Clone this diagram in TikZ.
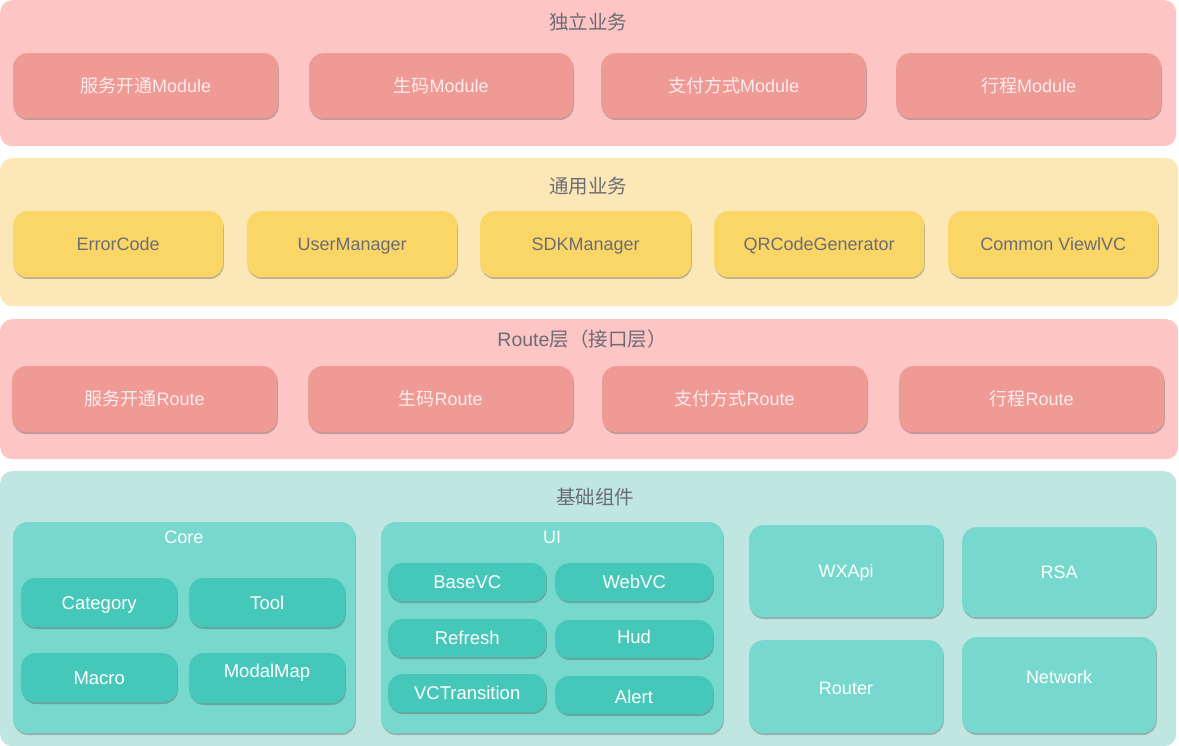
\documentclass[tikz,border=0pt]{standalone}
\usepackage{fontspec}
\setmainfont{Liberation Sans}
\newfontfamily\cjk{Noto Sans CJK SC}
\usetikzlibrary{shadows}
\definecolor{bandpink}{HTML}{FDC5C4}
\definecolor{modpink}{HTML}{EF9A95}
\definecolor{modtext}{HTML}{FBECEC}
\definecolor{bandyellow}{HTML}{FCE8B6}
\definecolor{boxyellow}{HTML}{FAD667}
\definecolor{graytext}{HTML}{6C6C76}
\definecolor{bandteal}{HTML}{C0E6E2}
\definecolor{midteal}{HTML}{77D8CD}
\definecolor{innerteal}{HTML}{45C7B9}
\newcommand\rbox[7]{\node[#6, anchor=north west, minimum width={(#4-#2)*1pt}, minimum height={(#5-#3)*1pt}] (#1) at (#2,#3) {#7};}
\tikzset{
  band/.style={fill=#1, draw=none, rounded corners=12pt, inner sep=0pt},
  shad/.style={drop shadow={shadow xshift=0.6pt, shadow yshift=-1.8pt, opacity=0.35, fill=black!70}},
  tfont/.style={font=\fontsize{18}{21}\selectfont, text height=14pt, text depth=1pt},
  modbox/.style={fill=modpink, draw=none, rounded corners=14pt, text=modtext, tfont, inner sep=0pt, shad},
  ybox/.style={fill=boxyellow, draw=none, rounded corners=14pt, text=graytext, tfont, inner sep=0pt, shad},
  midbox/.style={fill=midteal, draw=none, rounded corners=14pt, text=white, tfont, inner sep=0pt, shad},
  innerbox/.style={fill=innerteal, draw=none, rounded corners=14pt, text=white, tfont, font=\fontsize{18.5}{21}\selectfont, inner sep=0pt, shad},
  title/.style={text=graytext, font=\fontsize{19.5}{23}\selectfont, text height=15pt, text depth=1pt, inner sep=0pt},
  subtitle/.style={text=white, tfont, inner sep=0pt},
  txt/.style={text=white, tfont, inner sep=0pt},
}
\begin{document}
\begin{tikzpicture}[x=1pt,y=-1pt]
\useasboundingbox (0,0) rectangle (1179,746);
% bands
\rbox{b1}{0}{0}{1176}{146}{band=bandpink}{}
\rbox{b2}{0}{158}{1178}{306}{band=bandyellow}{}
\rbox{b3}{0}{319}{1178}{459}{band=bandpink}{}
\rbox{b4}{0}{471}{1176}{746}{band=bandteal}{}
\node[title] (t1) at (588,23) {\cjk 独立业务};
\node[title] (t2) at (588,187) {\cjk 通用业务};
\node[title] (t3) at (582,340) {Route{\cjk 层（接口层）}};
\node[title] (t4) at (595,497) {\cjk 基础组件};
% row 1
\rbox{m1}{13}{53}{278}{118}{modbox}{{\cjk 服务开通}Module}
\rbox{m2}{309}{53}{573}{118}{modbox}{{\cjk 生码}Module}
\rbox{m3}{601}{53}{866}{118}{modbox}{{\cjk 支付方式}Module}
\rbox{m4}{896}{53}{1161}{118}{modbox}{{\cjk 行程}Module}
% row 2
\rbox{y1}{13}{211}{223}{277}{ybox}{ErrorCode}
\rbox{y2}{247}{211}{457}{277}{ybox}{UserManager}
\rbox{y3}{480}{211}{691}{277}{ybox}{SDKManager}
\rbox{y4}{714}{211}{924}{277}{ybox}{QRCodeGenerator}
\rbox{y5}{948}{211}{1158}{277}{ybox}{Common ViewlVC}
% row 3
\rbox{r1}{12}{366}{277}{432}{modbox}{{\cjk 服务开通}Route}
\rbox{r2}{308}{366}{573}{432}{modbox}{{\cjk 生码}Route}
\rbox{r3}{602}{366}{867}{432}{modbox}{{\cjk 支付方式}Route}
\rbox{r4}{899}{366}{1164}{432}{modbox}{{\cjk 行程}Route}
% row 4: Core
\rbox{core}{13}{522}{355}{733}{midbox}{}
\node[subtitle] (coret) at (184,537) {Core};
\rbox{cat}{21}{578}{177}{627}{innerbox}{Category}
\rbox{tool}{189}{578}{345}{627}{innerbox}{Tool}
\rbox{macro}{21}{653}{177}{702}{innerbox}{Macro}
\rbox{modal}{189}{653}{345}{703}{innerbox}{}
\node[txt, font=\fontsize{18.5}{21}\selectfont] (modalt) at (267,671) {ModalMap};
% UI
\rbox{ui}{381}{522}{723}{733}{midbox}{}
\node[subtitle] (uit) at (552,537) {UI};
\rbox{basevc}{388}{563}{546}{601}{innerbox}{BaseVC}
\rbox{webvc}{555}{563}{713}{601}{innerbox}{WebVC}
\rbox{refresh}{388}{619}{546}{657}{innerbox}{Refresh}
\rbox{hud}{555}{620}{713}{658}{innerbox}{}
\node[txt, font=\fontsize{18.5}{21}\selectfont] (hudt) at (634,637) {Hud};
\rbox{vctr}{388}{674}{546}{712}{innerbox}{VCTransition}
\rbox{alert}{555}{676}{713}{714}{innerbox}{}
\node[txt, font=\fontsize{18.5}{21}\selectfont] (alertt) at (634,697) {Alert};
% right
\rbox{wx}{749}{525}{943}{617}{midbox}{WXApi}
\rbox{rsa}{962}{527}{1156}{617}{midbox}{RSA}
\rbox{router}{749}{640}{943}{733}{midbox}{}
\node[txt] (routert) at (846,688) {Router};
\rbox{net}{962}{637}{1156}{733}{midbox}{}
\node[txt] (nett) at (1059,677) {Network};
\end{tikzpicture}
\end{document}
